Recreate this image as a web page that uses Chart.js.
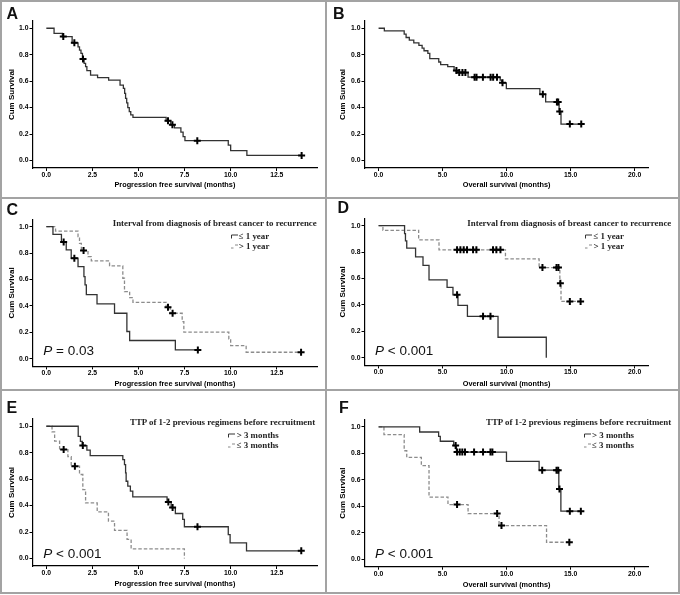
<!DOCTYPE html>
<html><head><meta charset="utf-8">
<script src="https://cdn.jsdelivr.net/npm/chart.js@4.4.0/dist/chart.umd.min.js"></script>
<style>
body{margin:0;background:#fff;}
#fig{position:relative;width:680px;height:595px;background:#fff;overflow:hidden;}
canvas{position:absolute;}
.ln{position:absolute;background:#a3a3a3;}
.lab{position:absolute;font:bold 16px/16px "Liberation Sans",Arial,sans-serif;color:#111;}
.pv{position:absolute;font:13.5px/13.5px "Liberation Sans",Arial,sans-serif;color:#111;white-space:nowrap;}
.lt{position:absolute;font:bold 8.9px/8.9px "Liberation Serif","Times New Roman",serif;color:#222;white-space:nowrap;}
.ic{position:absolute;}
</style></head><body>
<div id="fig">
<canvas id="cA" width="326" height="197" style="left:0;top:0"></canvas>
<canvas id="cB" width="354" height="197" style="left:326px;top:0"></canvas>
<canvas id="cC" width="326" height="193" style="left:0;top:197px"></canvas>
<canvas id="cD" width="354" height="193" style="left:326px;top:197px"></canvas>
<canvas id="cE" width="326" height="204" style="left:0;top:390px"></canvas>
<canvas id="cF" width="354" height="204" style="left:326px;top:390px"></canvas>

<div class="lab" style="left:6.5px;top:5.5px">A</div>
<div class="lab" style="left:333px;top:5.5px">B</div>
<div class="lab" style="left:6.5px;top:201.5px">C</div>
<div class="lab" style="left:337.5px;top:200px">D</div>
<div class="lab" style="left:6.5px;top:399.5px">E</div>
<div class="lab" style="left:339px;top:400px">F</div>

<div class="pv" style="left:43.3px;top:344.2px"><i>P</i> = 0.03</div>
<div class="pv" style="left:375px;top:343.5px"><i>P</i> &lt; 0.001</div>
<div class="pv" style="left:43.3px;top:547.2px"><i>P</i> &lt; 0.001</div>
<div class="pv" style="left:375px;top:547.2px"><i>P</i> &lt; 0.001</div>

<div class="lt" style="left:112.7px;top:219.2px">Interval from diagnosis of breast cancer to recurrence</div>
<svg class="ic" style="left:231px;top:234px" width="7" height="5"><path d="M0.5,4.5 V1 H7" stroke="#333" stroke-width="1" fill="none"/></svg>
<div class="lt" style="left:238.7px;top:232.2px">≤ 1 year</div>
<svg class="ic" style="left:231px;top:244px" width="7" height="5"><path d="M0,4 H2.5 M4,1 H7" stroke="#888" stroke-width="1" fill="none"/></svg>
<div class="lt" style="left:238.7px;top:242.2px">&gt; 1 year</div>

<div class="lt" style="left:467.3px;top:218.8px">Interval from diagnosis of breast cancer to recurrence</div>
<svg class="ic" style="left:585px;top:234px" width="7" height="5"><path d="M0.5,4.5 V1 H7" stroke="#333" stroke-width="1" fill="none"/></svg>
<div class="lt" style="left:593.5px;top:232.2px">≤ 1 year</div>
<svg class="ic" style="left:585px;top:244px" width="7" height="5"><path d="M0,4 H2.5 M4,1 H7" stroke="#888" stroke-width="1" fill="none"/></svg>
<div class="lt" style="left:593.5px;top:242.2px">&gt; 1 year</div>

<div class="lt" style="left:130px;top:417.5px">TTP of 1-2 previous regimens before recruitment</div>
<svg class="ic" style="left:228px;top:433px" width="7" height="5"><path d="M0.5,4.5 V1 H7" stroke="#333" stroke-width="1" fill="none"/></svg>
<div class="lt" style="left:236.7px;top:431.2px">&gt; 3 months</div>
<svg class="ic" style="left:228px;top:443px" width="7" height="5"><path d="M0,4 H2.5 M4,1 H7" stroke="#888" stroke-width="1" fill="none"/></svg>
<div class="lt" style="left:236.7px;top:440.8px">≤ 3 months</div>

<div class="lt" style="left:486px;top:417.5px">TTP of 1-2 previous regimens before recruitment</div>
<svg class="ic" style="left:583.5px;top:433px" width="7" height="5"><path d="M0.5,4.5 V1 H7" stroke="#333" stroke-width="1" fill="none"/></svg>
<div class="lt" style="left:592px;top:431.2px">&gt; 3 months</div>
<svg class="ic" style="left:583.5px;top:443px" width="7" height="5"><path d="M0,4 H2.5 M4,1 H7" stroke="#888" stroke-width="1" fill="none"/></svg>
<div class="lt" style="left:592px;top:440.8px">≤ 3 months</div>

<div class="ln" style="left:325px;top:0;width:2px;height:594px"></div>
<div class="ln" style="left:0;top:197px;width:680px;height:2px"></div>
<div class="ln" style="left:0;top:389px;width:680px;height:2px"></div>
<div style="position:absolute;left:0;top:0;width:680px;height:594px;border:2px solid #a3a3a3;box-sizing:border-box"></div>
</div>
<script>
// ---- tick labels ----
const xTicksPFS = [0, 2.5, 5, 7.5, 10, 12.5];
const xTicksOS = [0, 5, 10, 15, 20];
const yTicks = [0, 0.2, 0.4, 0.6, 0.8, 1.0];

// ---- Panel A: PFS, all patients ----
const aTime = [0, 0.42, 0.87, 1.4, 1.72, 1.8, 1.88, 1.96, 2.05, 2.13, 2.2, 2.4, 2.78, 3.38, 4.0, 4.18, 4.25, 4.3, 4.36, 4.42, 4.5, 4.58, 4.7, 6.5, 6.75, 6.95, 7.3, 7.42, 7.52, 9.87, 10.0, 10.88, 13.85];
const aSurv = [1, 0.962, 0.937, 0.89, 0.86, 0.835, 0.81, 0.768, 0.735, 0.71, 0.68, 0.646, 0.626, 0.607, 0.57, 0.545, 0.508, 0.47, 0.435, 0.4, 0.37, 0.345, 0.326, 0.30, 0.27, 0.247, 0.215, 0.18, 0.15, 0.116, 0.075, 0.038, 0.038];
const aCensTime = [0.92, 1.52, 1.99, 6.6, 6.84, 8.19, 13.85];
const aCensSurv = [0.937, 0.89, 0.768, 0.30, 0.27, 0.15, 0.038];

// ---- Panel B: OS, all patients ----
const bTime = [0, 0.45, 2.0, 2.15, 2.4, 2.75, 3.15, 3.4, 3.55, 3.85, 4.0, 4.7, 4.85, 5.4, 5.9, 6.13, 6.99, 9.5, 9.62, 9.98, 12.6, 13.05, 14.1, 14.25, 15.83];
const bSurv = [1, 0.98, 0.955, 0.93, 0.91, 0.89, 0.87, 0.85, 0.83, 0.81, 0.77, 0.745, 0.725, 0.71, 0.68, 0.665, 0.63, 0.607, 0.587, 0.543, 0.5, 0.443, 0.37, 0.275, 0.275];
const bCensTime = [6.08, 6.3, 6.55, 6.78, 7.5, 7.65, 8.15, 8.75, 8.95, 9.25, 9.68, 12.83, 13.93, 14.03, 14.15, 14.94, 15.83];
const bCensSurv = [0.68, 0.665, 0.665, 0.665, 0.63, 0.63, 0.63, 0.63, 0.63, 0.63, 0.587, 0.5, 0.443, 0.443, 0.37, 0.275, 0.275];

// ---- Panel C: PFS by interval (<=1 year solid, >1 year dashed) ----
const cShortTime = [0, 0.36, 0.82, 1.08, 1.35, 1.72, 2.04, 2.1, 2.17, 2.75, 3.7, 4.37, 4.52, 7.0, 8.22];
const cShortSurv = [1, 0.942, 0.884, 0.824, 0.761, 0.698, 0.622, 0.559, 0.486, 0.416, 0.345, 0.207, 0.139, 0.068, 0.068];
const cShortCensTime = [0.94, 1.52, 8.22];
const cShortCensSurv = [0.884, 0.761, 0.068];
const cLongTime = [0, 0.5, 1.72, 1.8, 1.9, 2.26, 2.44, 3.43, 4.15, 4.24, 4.52, 4.7, 6.5, 6.72, 7.37, 7.46, 9.9, 10.0, 10.84, 13.82];
const cLongSurv = [1, 0.967, 0.924, 0.874, 0.819, 0.773, 0.741, 0.703, 0.61, 0.509, 0.463, 0.428, 0.39, 0.345, 0.282, 0.202, 0.151, 0.1, 0.05, 0.05];
const cLongCensTime = [2.02, 6.6, 6.85, 13.82];
const cLongCensSurv = [0.819, 0.39, 0.345, 0.05];

// ---- Panel D: OS by interval ----
const dShortTime = [0, 2.03, 2.1, 2.2, 2.89, 3.47, 3.94, 5.35, 5.81, 6.2, 6.94, 9.33, 13.1];
const dShortSurv = [1, 0.94, 0.885, 0.83, 0.764, 0.70, 0.59, 0.533, 0.477, 0.397, 0.314, 0.156, 0];
const dShortCensTime = [6.13, 8.16, 8.74];
const dShortCensSurv = [0.477, 0.314, 0.314];
const dLongTime = [0, 0.34, 3.13, 4.72, 9.91, 12.54, 14.16, 14.25, 15.78];
const dLongSurv = [1, 0.965, 0.892, 0.817, 0.749, 0.683, 0.565, 0.427, 0.427];
const dLongCensTime = [6.13, 6.39, 6.65, 6.91, 7.38, 7.64, 8.94, 9.2, 9.52, 12.8, 13.9, 14.05, 14.2, 14.94, 15.78];
const dLongCensSurv = [0.817, 0.817, 0.817, 0.817, 0.817, 0.817, 0.817, 0.817, 0.817, 0.683, 0.683, 0.683, 0.565, 0.427, 0.427];

// ---- Panel E: PFS by TTP of previous regimens (>3 months solid, <=3 months dashed) ----
const eLongTime = [0, 1.73, 1.85, 1.95, 2.2, 2.38, 4.15, 4.24, 4.3, 4.33, 4.42, 4.56, 4.69, 6.55, 6.77, 7.0, 7.4, 7.49, 9.87, 9.97, 10.86, 13.83];
const eLongSurv = [1, 0.924, 0.886, 0.854, 0.819, 0.778, 0.748, 0.71, 0.647, 0.584, 0.547, 0.509, 0.466, 0.428, 0.385, 0.34, 0.295, 0.24, 0.18, 0.118, 0.058, 0.058];
const eLongCensTime = [1.98, 6.62, 6.85, 8.2, 13.83];
const eLongCensSurv = [0.854, 0.428, 0.385, 0.24, 0.058];
const eShortTime = [0, 0.31, 0.45, 0.72, 1.17, 1.35, 1.8, 1.98, 2.13, 2.76, 3.37, 3.7, 4.38, 4.6, 7.49];
const eShortSurv = [1, 0.957, 0.887, 0.824, 0.77, 0.698, 0.635, 0.521, 0.42, 0.353, 0.282, 0.212, 0.144, 0.073, 0];
const eShortCensTime = [0.94, 1.55];
const eShortCensSurv = [0.824, 0.698];

// ---- Panel F: OS by TTP of previous regimens ----
const fLongTime = [0, 3.21, 4.69, 4.82, 5.87, 6.08, 9.99, 12.54, 14.08, 14.24, 15.8];
const fLongSurv = [1, 0.962, 0.929, 0.892, 0.859, 0.81, 0.74, 0.673, 0.531, 0.363, 0.363];
const fLongCensTime = [6.02, 6.13, 6.34, 6.54, 6.75, 7.46, 8.16, 8.74, 8.89, 12.78, 13.9, 14.03, 14.13, 14.94, 15.8];
const fLongCensSurv = [0.859, 0.81, 0.81, 0.81, 0.81, 0.81, 0.81, 0.81, 0.81, 0.673, 0.673, 0.673, 0.531, 0.363, 0.363];
const fShortTime = [0, 0.42, 2.0, 2.2, 3.34, 3.94, 5.42, 6.99, 9.41, 13.12, 14.9];
const fShortSurv = [1, 0.942, 0.82, 0.77, 0.708, 0.47, 0.413, 0.345, 0.254, 0.128, 0.128];
const fShortCensTime = [6.13, 9.26, 9.6, 14.9];
const fShortCensSurv = [0.413, 0.345, 0.254, 0.128];

const SOLID = '#333333', DASHED = '#8c8c8c';
const FONT = '"Liberation Sans", Arial, sans-serif';

function curve(t, s, ct, cs, dashed) {
  return { t, s, ct, cs, color: dashed ? DASHED : SOLID, dash: dashed ? [3.5, 2] : [] };
}

function km(id, P) {
  const cv = document.getElementById(id);
  const W = cv.width, H = cv.height, XH = 23;
  const ds = [];
  P.curves.forEach(c => ds.push({
    type: 'line', data: c.t.map((x, i) => ({ x, y: c.s[i] })), stepped: 'before',
    borderColor: c.color, borderWidth: 1.3, borderDash: c.dash, pointRadius: 0, fill: false, order: 2
  }));
  P.curves.forEach(c => ds.push({
    type: 'line', showLine: false, data: c.ct.map((x, i) => ({ x, y: c.cs[i] })),
    pointStyle: 'cross', pointRadius: 3.5, pointBorderWidth: 2, borderColor: '#000', backgroundColor: '#000', order: 1
  }));
  new Chart(cv, {
    type: 'line',
    data: { datasets: ds },
    options: {
      responsive: false, animation: false, devicePixelRatio: 1, events: [],
      layout: { padding: { left: 0, top: P.t, right: W - P.r, bottom: H - P.b - XH } },
      plugins: { legend: { display: false }, tooltip: { enabled: false } },
      scales: {
        x: {
          type: 'linear', min: P.xmin, max: P.xmax,
          afterBuildTicks: s => { s.ticks = P.xticks.map(v => ({ value: v })); },
          afterFit: s => { s.height = XH; },
          grid: { drawOnChartArea: false, drawTicks: true, tickLength: 3, color: '#000', lineWidth: 1 },
          border: { display: true, color: '#000', width: 1.2 },
          ticks: { color: '#000', font: { family: FONT, size: 6.8, weight: 'bold' }, padding: 0, maxRotation: 0, autoSkip: false, callback: v => Number(v).toFixed(1) },
          title: { display: true, text: P.xtitle, color: '#000', font: { family: FONT, size: 7.3, weight: 'bold', lineHeight: 1.2 }, padding: { top: 0, bottom: Math.max(0, XH - P.xtd - 4.38) } }
        },
        y: {
          type: 'linear', min: -0.057, max: 1.055,
          afterBuildTicks: s => { s.ticks = yTicks.map(v => ({ value: v })); },
          afterFit: s => { s.width = P.l; },
          grid: { drawOnChartArea: false, drawTicks: true, tickLength: 3, color: '#000', lineWidth: 1 },
          border: { display: true, color: '#000', width: 1.2 },
          ticks: { color: '#000', font: { family: FONT, size: 6.8, weight: 'bold' }, padding: 1, autoSkip: false, callback: v => Number(v).toFixed(1) },
          title: { display: true, text: 'Cum Survival', color: '#000', font: { family: FONT, size: 8, weight: 'bold', lineHeight: 1.2 }, padding: { top: P.ytd - 4.8, bottom: 0 } }
        }
      }
    }
  });
}

const PFS = { xmin: -0.75, xmax: 14.7, xticks: xTicksPFS, l: 32.5, r: 317.3, ytd: 11.7, xtitle: 'Progression free survival (months)' };
const OS = { xmin: -1.1, xmax: 21.1, xticks: xTicksOS, l: 38.5, r: 322.7, ytd: 17, xtitle: 'Overall survival (months)' };

km('cA', Object.assign({}, PFS, { t: 21, b: 168, xtd: 16.5, curves: [curve(aTime, aSurv, aCensTime, aCensSurv, false)] }));
km('cB', Object.assign({}, OS, { t: 21, b: 168, xtd: 17.3, curves: [curve(bTime, bSurv, bCensTime, bCensSurv, false)] }));
km('cC', Object.assign({}, PFS, { t: 22.4, b: 169.4, xtd: 17.9, curves: [
  curve(cShortTime, cShortSurv, cShortCensTime, cShortCensSurv, false),
  curve(cLongTime, cLongSurv, cLongCensTime, cLongCensSurv, true)] }));
km('cD', Object.assign({}, OS, { t: 21.4, b: 168.4, xtd: 18.3, curves: [
  curve(dShortTime, dShortSurv, dShortCensTime, dShortCensSurv, false),
  curve(dLongTime, dLongSurv, dLongCensTime, dLongCensSurv, true)] }));
km('cE', Object.assign({}, PFS, { t: 29.0, b: 176.0, xtd: 18.4, curves: [
  curve(eLongTime, eLongSurv, eLongCensTime, eLongCensSurv, false),
  curve(eShortTime, eShortSurv, eShortCensTime, eShortCensSurv, true)] }));
km('cF', Object.assign({}, OS, { t: 29.7, b: 176.7, xtd: 18.7, curves: [
  curve(fLongTime, fLongSurv, fLongCensTime, fLongCensSurv, false),
  curve(fShortTime, fShortSurv, fShortCensTime, fShortCensSurv, true)] }));
</script>
</body></html>
